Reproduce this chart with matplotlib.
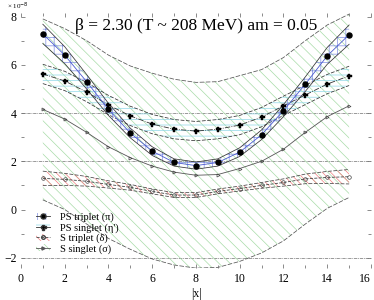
import matplotlib
matplotlib.use("Agg")
import matplotlib.pyplot as plt
from matplotlib.patches import Patch
from matplotlib.lines import Line2D
import numpy as np

# ---- data ----
x = [1, 2, 3, 4, 5, 6, 7, 8, 9, 10, 11, 12, 13, 14, 15]
ps_triplet = [7.28, 6.40, 5.30, 4.15, 3.17, 2.42, 1.95, 1.82, 1.95, 2.38, 3.10, 4.10, 5.20, 6.37, 7.25]
ps_triplet_err = [0.40, 0.35, 0.30, 0.25, 0.20, 0.18, 0.15, 0.15, 0.15, 0.18, 0.20, 0.25, 0.30, 0.35, 0.40]
ps_singlet = [5.62, 5.33, 4.87, 4.33, 3.88, 3.54, 3.33, 3.25, 3.33, 3.50, 3.83, 4.30, 4.75, 5.20, 5.54]
ps_singlet_err = [0.40, 0.40, 0.40, 0.40, 0.40, 0.40, 0.40, 0.40, 0.40, 0.40, 0.40, 0.40, 0.40, 0.40, 0.40]
s_triplet = [1.29, 1.25, 1.17, 1.04, 0.92, 0.75, 0.60, 0.60, 0.75, 0.87, 1.00, 1.12, 1.27, 1.33, 1.36]
s_triplet_err = [0.30, 0.25, 0.20, 0.15, 0.12, 0.10, 0.10, 0.10, 0.10, 0.10, 0.12, 0.15, 0.20, 0.25, 0.30]
s_singlet = [4.15, 3.75, 3.20, 2.60, 2.15, 1.80, 1.55, 1.42, 1.45, 1.70, 2.00, 2.50, 3.20, 3.85, 4.30]
s_singlet_err = [3.75, 3.75, 3.80, 3.80, 3.80, 3.85, 3.85, 3.85, 3.85, 3.85, 3.80, 3.80, 3.80, 3.80, 3.80]

labels = ["PS triplet (\u03c0)", "PS singlet (\u03b7')", "S triplet (\u03b4)", "S singlet (\u03c3)"]
title = "\u03b2 = 2.30 (T ~ 208 MeV) am = 0.05"
xticks = [0, 2, 4, 6, 8, 10, 12, 14, 16]
yticks = [-2, 0, 2, 4, 6, 8]
yticklabels = ['\u22122', '0', '2', '4', '6', '8']

plt.rcParams['font.family'] = ['Liberation Serif', 'DejaVu Serif']
plt.rcParams['hatch.linewidth'] = 0.5

fig = plt.figure(figsize=(3.74, 3.0), dpi=100)
ax = fig.add_axes([0.056, 0.107, 0.936, 0.85])

xa = np.array(x)

def band(vals, errs, color, hatch, edge_ls, edge_color, z):
    v = np.array(vals); e = np.array(errs)
    ax.fill_between(xa, v - e, v + e, facecolor='none', edgecolor=color,
                    hatch=hatch, linewidth=0, zorder=z)
    ax.plot(xa, v + e, ls=edge_ls, color=edge_color, lw=0.55, zorder=z + 0.1)
    ax.plot(xa, v - e, ls=edge_ls, color=edge_color, lw=0.55, zorder=z + 0.1)

band(s_singlet, s_singlet_err, '#a8dca8', '\\\\\\', (0, (6, 2)), '#555555', 1)
band(s_triplet, s_triplet_err, '#f08080', '\\\\\\\\', (0, (5, 2)), '#444444', 2)
band(ps_singlet, ps_singlet_err, '#8fd8e8', '---', (0, (5, 2)), '#333333', 3)
band(ps_triplet, ps_triplet_err, '#8090e0', '++', '-', '#333333', 4)

ax.plot(x, s_singlet, '-', color='#555555', lw=0.6, marker='>', ms=2.2,
        mfc='none', mec='#444444', mew=0.5, zorder=5)
ax.plot(x, s_triplet, '--', color='#444444', lw=0.6, marker='o', ms=2.6,
        mfc='none', mec='#444444', mew=0.5, zorder=5)
ax.plot(x, ps_singlet, '-.', color='#333333', lw=0.6, marker='P', ms=3.6,
        mfc='black', mec='black', mew=0.3, zorder=6)
ax.plot(x, ps_triplet, '-', color='#4a5ad0', lw=0.6, marker='o', ms=3.6,
        mfc='black', mec='black', zorder=6)

for yv in [4, 2, -2]:
    ax.axhline(yv, color='#888888', lw=0.6, ls=(0, (4, 1, 1, 1)), zorder=0)

ax.set_xlim(0, 16)
ax.set_ylim(-2.42, 8.15)
ax.set_xticks(xticks)
ax.set_yticks(yticks)
ax.set_yticklabels(yticklabels)
ax.set_xticks(range(1, 16), minor=True)
ax.set_yticks([-1, 1, 3, 5, 7], minor=True)
for s in ax.spines.values():
    s.set_visible(False)
ax.tick_params(which='both', direction='in', color='#777777', width=0.6,
               top=True, right=True, labelsize=8.5)
ax.tick_params(which='major', length=3)
ax.tick_params(which='minor', length=2)
ax.tick_params(axis='x', pad=4)
ax.tick_params(axis='y', pad=3)
for lbl in ax.get_xticklabels():
    if lbl.get_text() == '16':
        lbl.set_horizontalalignment('right')

ax.set_xlabel('|x|', fontsize=8.5, labelpad=0)
ax.xaxis.set_label_coords(0.5, -0.08)

ax.text(8, 7.6, title, fontsize=12.5, ha='center', va='center', zorder=10)
fig.text(0.02, 0.998, '\u00d7 10$^{-8}$', fontsize=5, ha='left', va='top')

handles = [
    (Patch(facecolor='none', edgecolor='#8090e0', hatch='++', lw=0),
     Line2D([], [], color='#333333', marker='o', ms=3.6, mfc='black', lw=0.6)),
    (Patch(facecolor='none', edgecolor='#8fd8e8', hatch='---', lw=0),
     Line2D([], [], color='#333333', marker='P', ms=3.6, mfc='black', lw=0.6)),
    (Patch(facecolor='none', edgecolor='#f08080', hatch='\\\\\\\\', lw=0),
     Line2D([], [], color='#444444', marker='o', ms=2.6, mfc='none', lw=0.6, ls='--')),
    (Patch(facecolor='none', edgecolor='#a8dca8', hatch='\\\\\\', lw=0),
     Line2D([], [], color='#555555', marker='>', ms=2.2, mfc='none', lw=0.6)),
]
ax.legend(handles, labels, loc='lower left', bbox_to_anchor=(0.03, 0.04),
          frameon=False, fontsize=7.5, labelspacing=0.08, handlelength=1.4,
          handletextpad=0.9, borderaxespad=0)

fig.savefig('out.png', dpi=100)
